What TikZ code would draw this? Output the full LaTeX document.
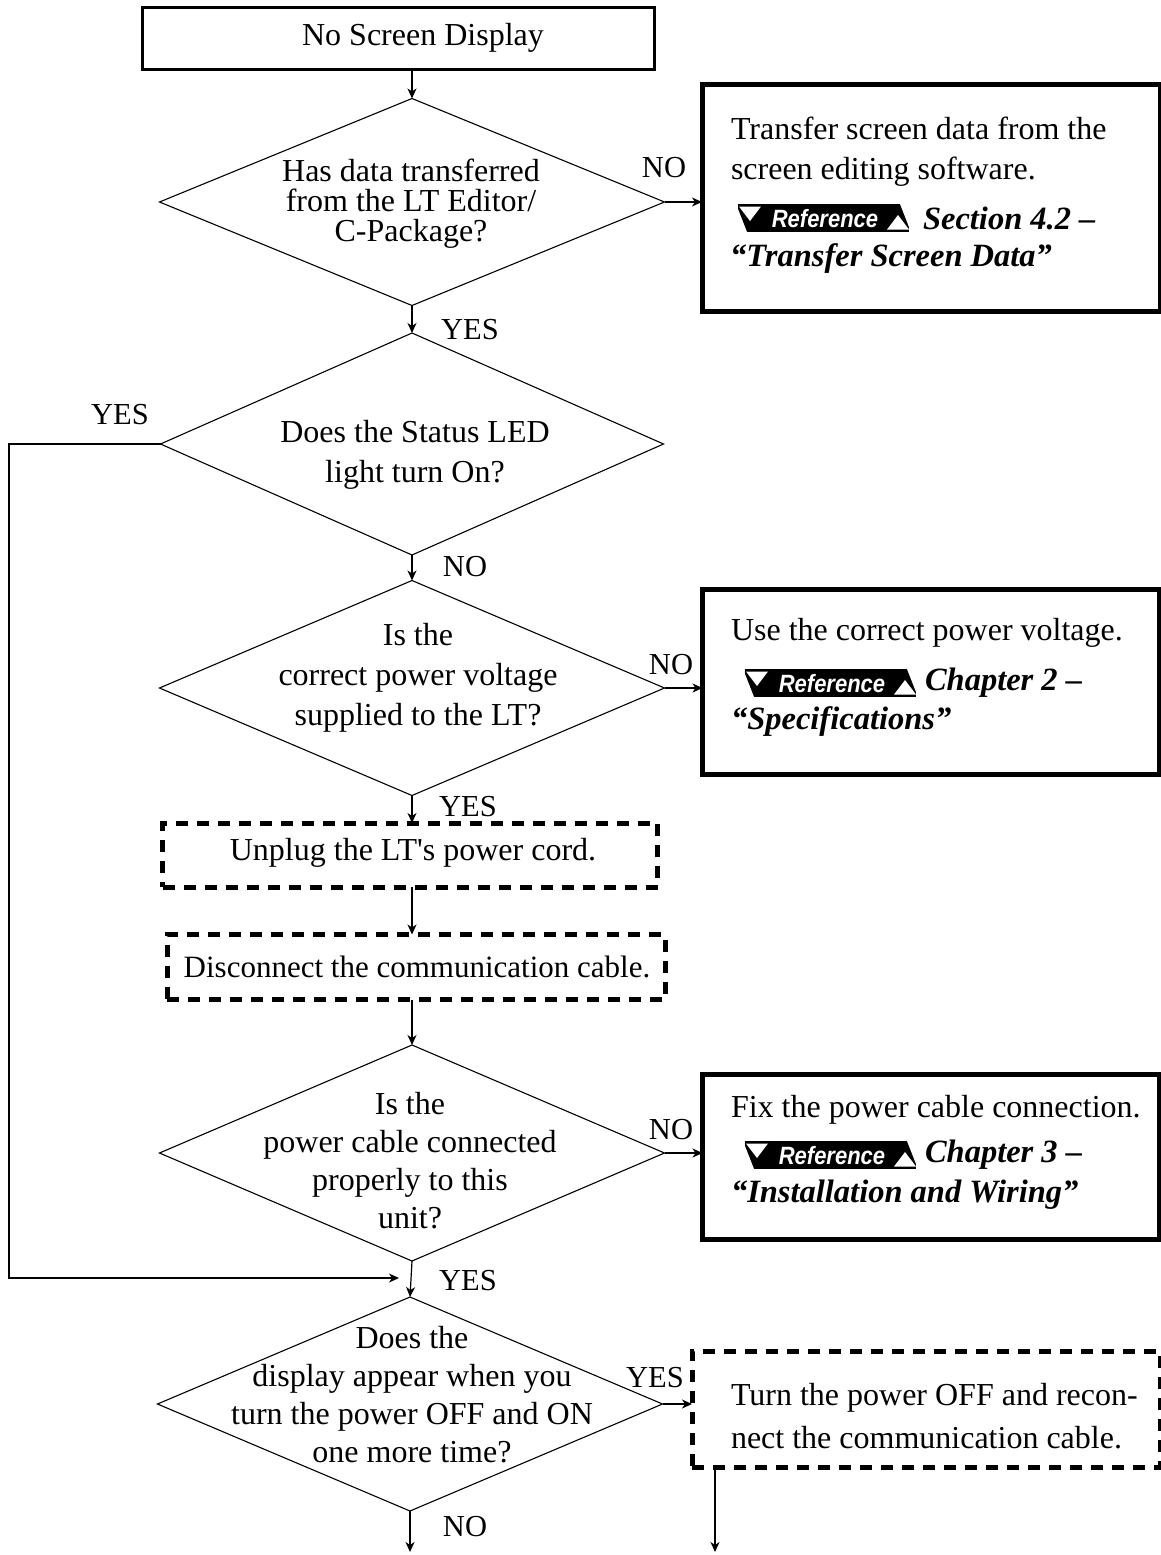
\documentclass[tikz,border=0pt]{standalone}
\usepackage{fontspec}
\setmainfont{Liberation Serif}[Ligatures=TeXOff]
\newfontfamily\bansans{Liberation Sans}[FakeStretch=0.88]
\usetikzlibrary{arrows.meta,shapes.geometric}
\begin{document}
\begin{tikzpicture}[x=1pt,y=-1pt,
  every node/.style={inner sep=0pt, outer sep=0pt},
  txt/.style={font=\fontsize{32}{38}\selectfont, align=center},
  lbl/.style={font=\fontsize{30.5}{30}\selectfont},
  rtxt/.style={font=\fontsize{32}{38}\selectfont, anchor=west},
  reftxt/.style={font=\fontsize{32.5}{38}\selectfont\bfseries\itshape, anchor=west},
  dia/.style={diamond, draw, line width=1.1pt},
  topbox/.style={draw, line width=3pt},
  refbox/.style={draw, line width=5pt},
  dbox/.style={draw, line width=5pt, dash pattern=on 12pt off 9pt},
  thin/.style={line width=1.2pt},
  arr/.style={thin, -{Stealth[length=10pt,width=9pt,inset=3pt]}},
  refban/.pic={
    \fill[black] (0,0) -- (171,0) -- (171,28) -- (0,28) -- cycle;
    \fill[white] (1,2.5) -- (23,2.5) -- (12,17) -- cycle;
    \fill[white] (0,28) -- (0,5) -- (9,28) -- cycle;
    \fill[white] (171,25.5) -- (149,25.5) -- (160,11) -- cycle;
    \fill[white] (171,0) -- (171,23) -- (162,0) -- cycle;
    \node[text=white, font=\bansans\bfseries\itshape\fontsize{25}{25}\selectfont] at (87,14.5) {Reference};
  }
]
\useasboundingbox (0,0) rectangle (1161,1555);

% top box
\node[topbox, minimum width=512, minimum height=62] (start) at (398,39) {};
\node[txt] (startt) at (423,38) {No Screen Display};

% diamonds
\node[dia, minimum width=505, minimum height=207] (d1) at (412,202) {};
\node[txt, font=\fontsize{32}{30}\selectfont] (d1t) at (411,204) {Has data transferred\\from the LT Editor/\\C-Package?};

\node[dia, minimum width=503, minimum height=222] (d2) at (412,444) {};
\node[txt, font=\fontsize{32}{40}\selectfont] (d2t) at (415,455) {Does the Status LED\\light turn On?};

\node[dia, minimum width=505, minimum height=215] (d3) at (412,688) {};
\node[txt, font=\fontsize{32}{40}\selectfont] (d3t) at (418,678) {Is the\\correct power voltage\\supplied to the LT?};

\node[dbox, minimum width=495, minimum height=64] (u1) at (410,855) {};
\node[txt] (u1t) at (413,853) {Unplug the LT's power cord.};

\node[dbox, minimum width=498, minimum height=65] (u2) at (416,967) {};
\node[txt, font=\fontsize{31}{38}\selectfont] (u2t) at (417,967) {Disconnect the communication cable.};

\node[dia, minimum width=505, minimum height=216] (d4) at (412,1153) {};
\node[txt, font=\fontsize{32}{38}\selectfont] (d4t) at (410,1161) {Is the\\power cable connected\\properly to this\\unit?};

\node[dia, minimum width=505, minimum height=214] (d5) at (410,1404) {};
\node[txt, font=\fontsize{32}{38}\selectfont] (d5t) at (412,1395) {Does the\\display appear when you\\turn the power OFF and ON\\one more time?};

% right boxes
\node[refbox, minimum width=458, minimum height=227] (b1) at (931,198) {};
\node[rtxt] (b1a) at (731,128) {Transfer screen data from the};
\node[rtxt] (b1b) at (731,172) {screen editing software.};
\pic at (738,204) {refban};
\node[reftxt] (b1c) at (923,218) {Section 4.2 –};
\node[reftxt] (b1d) at (730,259) {“Transfer Screen Data”};

\node[refbox, minimum width=457, minimum height=185] (b2) at (931,682) {};
\node[rtxt] (b2a) at (731,633) {Use the correct power voltage.};
\pic at (745,669) {refban};
\node[reftxt] (b2c) at (925,683) {Chapter 2 –};
\node[reftxt] (b2d) at (731,722) {“Specifications”};

\node[refbox, minimum width=457, minimum height=165] (b3) at (931,1157) {};
\node[rtxt] (b3a) at (731,1110) {Fix the power cable connection.};
\pic at (745,1141) {refban};
\node[reftxt] (b3c) at (925,1155) {Chapter 3 –};
\node[reftxt] (b3d) at (731,1195) {“Installation and Wiring”};

\node[dbox, minimum width=468, minimum height=116] (b4) at (926,1409) {};
\node[rtxt] (b4a) at (731,1398) {Turn the power OFF and recon-};
\node[rtxt] (b4b) at (731,1438) {nect the communication cable.};

% labels
\node[lbl] (l1) at (664,168) {NO};
\node[lbl] (l2) at (470,330) {YES};
\node[lbl] (l3) at (120,415) {YES};
\node[lbl] (l4) at (465,567) {NO};
\node[lbl] (l5) at (671,665) {NO};
\node[lbl] (l6) at (468,807) {YES};
\node[lbl] (l7) at (671,1130) {NO};
\node[lbl] (l8) at (468,1281) {YES};
\node[lbl] (l9) at (655,1378) {YES};
\node[lbl] (l10) at (465,1527) {NO};

% connectors
\coordinate (c1) at (9,444);
\coordinate (j) at (399,1278);
\coordinate (e1) at (410,1552);
\coordinate (e2) at (715,1552);

\draw[arr] (412,70) -- (d1.north);
\draw[arr] (d1.south) -- (d2.north);
\draw[arr] (d2.south) -- (d3.north);
\draw[arr] (d3.south) -- (d3.south |- u1.north);
\draw[arr] (u1.south -| d3.south) -- (u2.north -| d3.south);
\draw[arr] (u2.south -| d3.south) -- (d4.north);
\draw[arr] (d4.south) -- (d5.north);
\draw[arr] (d5.south) -- (e1);
\draw[arr] (d1.east) -- (d1.east -| b1.west);
\draw[arr] (d3.east) -- (d3.east -| b2.west);
\draw[arr] (d4.east) -- (d4.east -| b3.west);
\draw[arr] (d5.east) -- (d5.east -| b4.west);
\draw[arr] (d2.west) -- (c1) |- (j);
\draw[arr] (e2 |- b4.south) -- (e2);
\end{tikzpicture}
\end{document}
